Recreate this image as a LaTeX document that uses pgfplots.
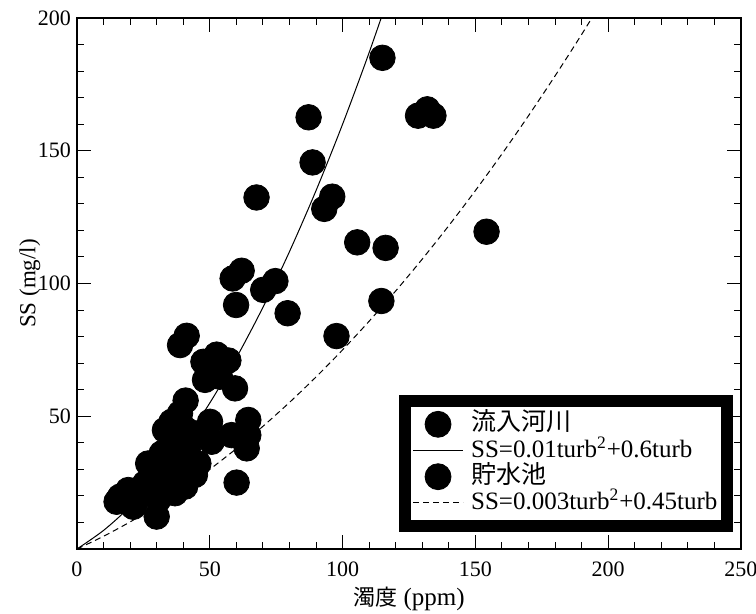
\documentclass[border=0pt]{standalone}
\usepackage{fontspec}
\setmainfont{Liberation Serif}
\newfontfamily\cjk{Noto Sans CJK JP}
\usepackage{pgfplots}
\pgfplotsset{compat=1.18}
\pgfplotsset{
  markleg/.style={legend image code/.code={\draw[##1] plot coordinates {(12.5pt,0pt)};}},
  lineleg/.style={legend image code/.code={\draw[##1] (0pt,0pt) -- (25pt,0pt);}},
}
\begin{document}
\begin{tikzpicture}
\begin{axis}[
  scale only axis, width=332pt, height=265.5pt,
  xmin=0, xmax=250, ymin=0, ymax=200,
  xtick={0,50,...,250}, ytick={0,50,...,200},
  yticklabels={,50,100,150,200},
  minor x tick num=4, minor y tick num=4,
  tick align=inside, tick pos=both,
  major tick length=7pt, minor tick length=3.5pt,
  axis line style={line width=1pt},
  every tick/.style={black, line width=0.5pt},
  tick label style={font=\fontsize{11}{12}\selectfont},
  xticklabel style={yshift=-3pt},
  yticklabel style={xshift=0.5pt},
  /pgf/number format/assume math mode=true,
  xlabel={{\fontsize{11}{12}\selectfont\cjk 濁度} (ppm)}, ylabel={SS (mg/l)},
  xlabel style={font=\fontsize{12.5}{14}\selectfont, at={(axis description cs:0.5,0)}, anchor=center, yshift=-25pt},
  ylabel style={font=\fontsize{11.5}{13}\selectfont, at={(axis description cs:0,0.5)}, anchor=center, yshift=23.5pt},
  legend style={at={(axis description cs:0.988,0.032)}, anchor=south east,
    draw=black, line width=6pt, font=\fontsize{12.5}{14}\selectfont,
    inner xsep=4pt, inner ysep=5pt, row sep=0pt, column sep=3pt,
    nodes={inner sep=0.8pt, text height=9pt, text depth=2.5pt}},
  legend cell align=left,
]
\addlegendimage{only marks, mark=*, mark size=6.5pt, line width=0.4pt, black, mark options={fill=black}, markleg}
\addlegendentry{{\cjk 流入河川}}
\addlegendimage{black, line width=0.5pt, lineleg}
\addlegendentry{SS=0.01turb\textsuperscript{2}+0.6turb}
\addlegendimage{only marks, mark=*, mark size=6.5pt, line width=0.4pt, black, mark options={fill=black}, markleg}
\addlegendentry{{\cjk 貯水池}}
\addlegendimage{black, line width=0.5pt, densely dashed, lineleg}
\addlegendentry{SS=0.003turb\textsuperscript{2}+0.45turb}

% fitted curves
\addplot[black, line width=0.5pt, smooth, forget plot] coordinates {
 (0,0) (10,7) (20,16) (30,27) (40,40) (50,55) (60,72) (70,91) (80,112)
 (90,135) (100,160) (110,187) (120,216)};
\addplot[black, line width=0.5pt, densely dashed, smooth, forget plot] coordinates {
 (0,0) (10,4.8) (20,10.2) (30,16.2) (40,22.8) (50,30) (60,37.8) (70,46.2)
 (80,55.2) (90,64.8) (100,75) (110,85.8) (120,97.2) (130,109.2) (140,121.8)
 (150,135) (160,148.8) (170,163.2) (180,178.2) (190,193.8) (200,210)};

% inflow river
\addplot[only marks, mark=*, mark size=6.4pt, black, mark options={fill=black}, forget plot] coordinates {
 (115,185) (87.2,162.6) (88.7,145.6) (128.4,163.2) (131.9,165.6) (134.2,163.2)
 (67.6,132.4) (96.1,132.7) (93.1,128.1) (154.2,119.5) (105.5,115.5) (116.2,113.4)
 (62.0,104.8) (58.6,101.9) (74.7,100.9) (70.1,97.6) (59.9,91.9) (79.3,88.8)
 (114.6,93.4) (97.7,80.2) (41.3,80.3) (38.8,76.8) (52.6,73.2) (47.6,70.5)
 (57.0,71.0) (48.2,63.7) (53.8,64.9) (59.5,60.5)};
% reservoir
\addplot[only marks, mark=*, mark size=6.4pt, black, mark options={fill=black}, forget plot] coordinates {
 (40.9,55.9) (35.6,47.9) (50.1,47.9) (64.5,48.6) (64.5,42.9) (63.9,37.9)
 (58.2,42.9) (50.7,40.4) (45.7,43.6) (44.4,27.9) (40.7,23.5) (60.1,25.0)
 (30.0,12.2) (14.9,17.8) (21.8,17.2) (35.6,39.8) (31.9,36.0) (39.4,34.8)
 (28.1,29.8) (35.6,29.8) (25.6,24.7) (31.9,23.5) (19.3,22.2) (30.6,18.5)
 (36.9,21.0) (41.9,38.5) (45.7,32.2) (26.8,32.2) (33.1,44.8) (38.8,51.1)
 (16.2,19.7) (21.2,15.9) (41.3,44.8)};
\end{axis}
\pgfresetboundingbox
\path (-38.5pt,-32.5pt) rectangle (339.5pt,274.5pt);
\end{tikzpicture}
\end{document}
